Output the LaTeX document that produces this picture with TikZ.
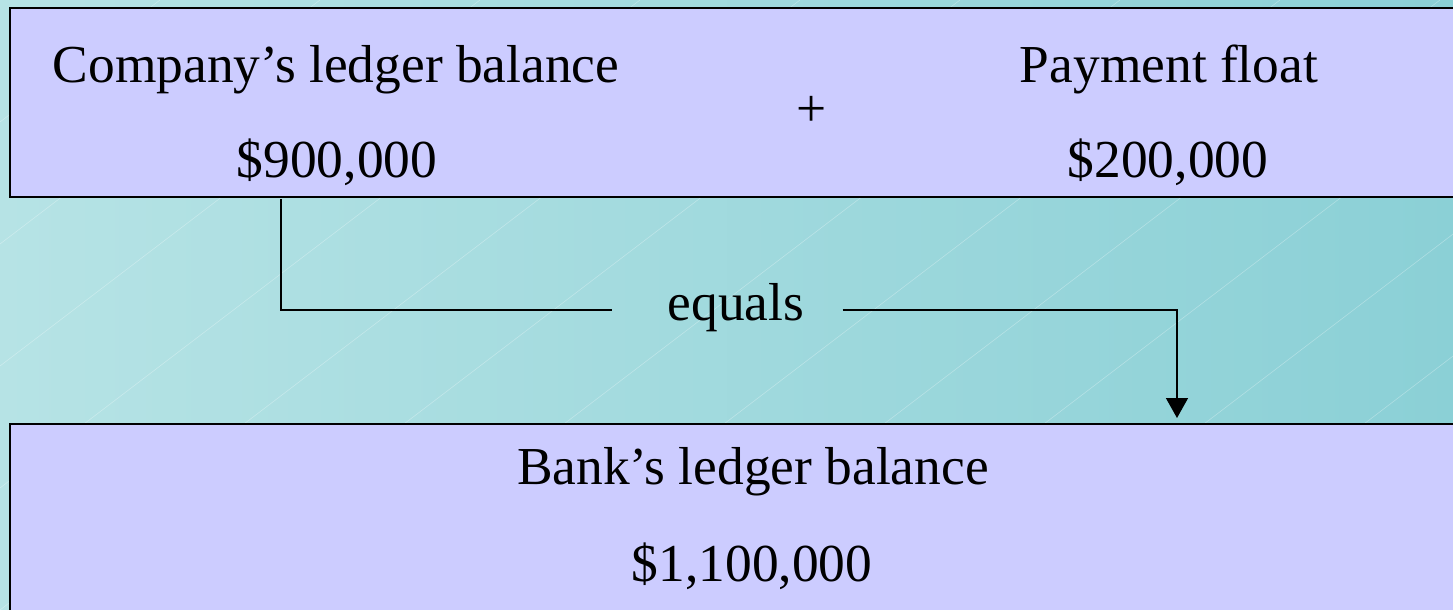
\documentclass[tikz,border=0pt]{standalone}
\usepackage{fontspec}
\setmainfont{Liberation Serif}
\usetikzlibrary{arrows.meta}
\definecolor{boxfill}{HTML}{CCCCFF}
\definecolor{bgleft}{HTML}{B6E3E5}
\definecolor{bgright}{HTML}{8BD0D6}
\tikzset{
  ledgerbox/.style={draw, line width=1pt, fill=boxfill, inner sep=0pt},
  txt/.style={font=\fontsize{26.7}{32}\selectfont, inner sep=0pt, anchor=base},
  link/.style={line width=0.75pt}
}
\begin{document}
\begin{tikzpicture}[x=0.5pt,y=-0.5pt]
        \useasboundingbox (0,0) rectangle (1453,610);
        \clip (0,0) rectangle (1453,610);
        % background
        \shade[left color=bgleft, right color=bgright] (0,0) rectangle (1453,610);
        \foreach \i in {-800,-640,...,1500} {
            \draw[white, opacity=0.3, line width=0.3pt] (\i,610) -- ++(800,-610);
        }
        % boxes
        \node[ledgerbox, minimum width=730pt, minimum height=94.5pt] (company) at (740,102.5) {};
        \node[ledgerbox, minimum width=730pt, minimum height=98pt] (bank) at (740,522) {};
        % texts
        \node[txt] (companytitle) at (336,83) {Company’s ledger balance};
        \node[txt] (companyamount) at (337,178) {\$900,000};
        \node[txt] (plus) at (812,127) {+};
        \node[txt] (floattitle) at (1169,83) {Payment float};
        \node[txt] (floatamount) at (1168,178) {\$200,000};
        \node[txt] (equals) at (736,321) {equals};
        \node[txt] (banktitle) at (753,484) {Bank’s ledger balance};
        \node[txt] (bankamount) at (752,581) {\$1,100,000};
        % connectors
        \coordinate (from) at (281,199);
        \coordinate (to) at (1177,418);
        \draw[link] (from) |- ([xshift=-27.5pt,yshift=-1pt]equals.west);
        \draw[link, -{Triangle[length=10pt,width=11pt]}] ([xshift=19pt,yshift=-1pt]equals.east) -| (to);
    \end{tikzpicture}
\end{document}
